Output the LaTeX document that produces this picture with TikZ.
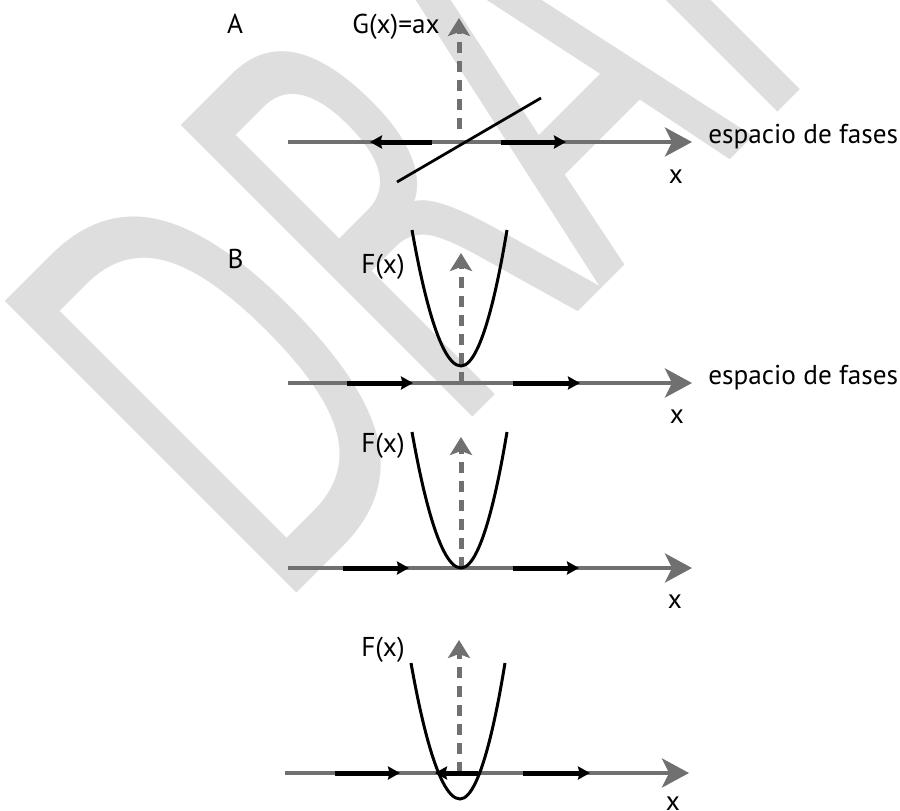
\documentclass[tikz,border=0pt]{standalone}
\usepackage{fontspec}
\setmainfont{PT Sans}
\newfontfamily\wmfont{DejaVu Sans}
\usetikzlibrary{arrows.meta}
\definecolor{axisgray}{HTML}{707070}
\definecolor{wmgray}{HTML}{DEDEDE}

\begin{document}
\begin{tikzpicture}[
  axis/.style={draw=axisgray, line width=0.08cm, -{Stealth[length=0.54cm, width=0.58cm, inset=0.14cm]}},
  flow/.style={draw=black, line width=0.1cm, -{Stealth[length=0.24cm, width=0.26cm, inset=0.03cm]}},
  vec/.style={draw=axisgray, line width=0.1cm, dash pattern=on 0.22cm off 0.16cm, -{Stealth[length=0.36cm, width=0.44cm, inset=0.08cm]}},
  curve/.style={draw=black, line width=0.06cm},
  lbl/.style={font=\fontsize{15.5}{18}\selectfont, inner sep=0pt},
  wmark/.style={font=\wmfont\fontsize{322}{322}\selectfont, text=wmgray, inner sep=0pt}
]
  \useasboundingbox (0,0) rectangle (18,-16.22);

  % --- marca de agua ---
  \node[wmark, rotate=45, xscale=0.57, anchor=base west] (wm) at (5.49,-12.31) {DRAFT};

  % --- A ---
  \node[lbl, anchor=base] (labA) at (4.70,-0.66) {A};
  \node[lbl, anchor=base east] (gA) at (8.80,-0.66) {G(x)=ax};
  \begin{scope}[yshift=-2.84cm]
    \coordinate (axA-l) at (5.76,0); \coordinate (axA-r) at (13.84,0);
    \draw[axis] (axA-l) -- (axA-r);
    \coordinate (upA-b) at (9.18,0.26); \coordinate (upA-t) at (9.18,2.48);
    \draw[vec] (upA-b) -- (upA-t);
    \foreach \a/\b [count=\k] in {8.64/7.40,10.02/11.32} {
      \coordinate (flA\k-s) at (\a,0); \coordinate (flA\k-e) at (\b,0);
      \draw[flow] (flA\k-s) -- (flA\k-e);
    }
    \coordinate (lnA-l) at (7.94,-0.80); \coordinate (lnA-r) at (10.82,0.88);
    \draw[curve, line width=0.055cm] (lnA-l) -- (lnA-r);
    \node[lbl, anchor=base west] (phA) at (14.16,-0.02) {espacio de fases};
    \node[lbl, anchor=base] (xA) at (13.52,-0.82) {x};
  \end{scope}

  % --- B ---
  \node[lbl, anchor=base] (labB) at (4.71,-5.36) {B};
  \begin{scope}[yshift=-7.66cm]
    \coordinate (axB1-l) at (5.76,0); \coordinate (axB1-r) at (13.84,0);
    \draw[axis] (axB1-l) -- (axB1-r);
    \coordinate (upB1-b) at (9.22,0); \coordinate (upB1-t) at (9.22,2.60);
    \draw[vec] (upB1-b) -- (upB1-t);
    \draw[curve] (8.24,3.06) parabola bend (9.22,0.34) (10.14,3.06);
    \foreach \a/\b [count=\k] in {6.94/8.26,10.26/11.60} {
      \coordinate (flB1\k-s) at (\a,0); \coordinate (flB1\k-e) at (\b,0);
      \draw[flow] (flB1\k-s) -- (flB1\k-e);
    }
    \node[lbl, anchor=base east] (fB1) at (8.10,2.20) {F(x)};
    \node[lbl, anchor=base west] (phB1) at (14.16,-0.02) {espacio de fases};
    \node[lbl, anchor=base] (xB1) at (13.54,-0.80) {x};
  \end{scope}

  \begin{scope}[yshift=-11.36cm]
    \coordinate (axB2-l) at (5.76,0); \coordinate (axB2-r) at (13.84,0);
    \draw[axis] (axB2-l) -- (axB2-r);
    \coordinate (upB2-b) at (9.22,0); \coordinate (upB2-t) at (9.22,2.62);
    \draw[vec] (upB2-b) -- (upB2-t);
    \draw[curve] (8.24,2.72) parabola bend (9.22,0) (10.14,2.72);
    \foreach \a/\b [count=\k] in {6.86/8.18,10.26/11.58} {
      \coordinate (flB2\k-s) at (\a,0); \coordinate (flB2\k-e) at (\b,0);
      \draw[flow] (flB2\k-s) -- (flB2\k-e);
    }
    \node[lbl, anchor=base east] (fB2) at (8.10,2.32) {F(x)};
    \node[lbl, anchor=base] (xB2) at (13.50,-0.80) {x};
  \end{scope}

  \begin{scope}[yshift=-15.46cm]
    \coordinate (axB3-l) at (5.70,0); \coordinate (axB3-r) at (13.78,0);
    \draw[axis] (axB3-l) -- (axB3-r);
    \coordinate (upB3-b) at (9.18,0); \coordinate (upB3-t) at (9.18,2.66);
    \draw[vec] (upB3-b) -- (upB3-t);
    \draw[curve] (8.22,2.20) parabola bend (9.20,-0.52) (10.10,2.20);
    \foreach \a/\b [count=\k] in {6.70/8.00,9.56/8.70,10.46/11.80} {
      \coordinate (flB3\k-s) at (\a,0); \coordinate (flB3\k-e) at (\b,0);
      \draw[flow] (flB3\k-s) -- (flB3\k-e);
    }
    \node[lbl, anchor=base east] (fB3) at (8.10,2.34) {F(x)};
    \node[lbl, anchor=base] (xB3) at (13.46,-0.74) {x};
  \end{scope}
\end{tikzpicture}
\end{document}
